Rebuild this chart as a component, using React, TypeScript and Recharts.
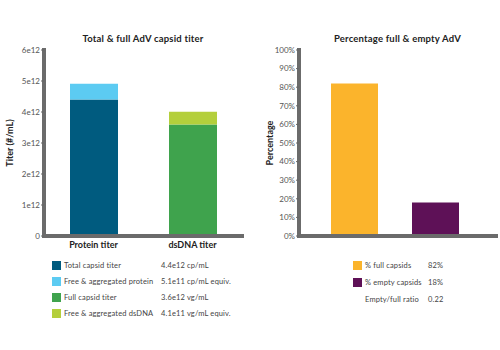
import React from "react";
import { BarChart, Bar, XAxis, YAxis, Cell } from "recharts";

const titerCategories = ["Protein titer", "dsDNA titer"];
const titerBase = [4.4e12, 3.6e12];
const titerFree = [5.1e11, 4.1e11];
const titerTicks = [0, 1e12, 2e12, 3e12, 4e12, 5e12, 6e12];
const titerTickLabels = ["0", "1e12", "2e12", "3e12", "4e12", "5e12", "6e12"];

const pctCategories = ["% full capsids", "% empty capsids"];
const pctValues = [82, 18];
const pctTicks = [0, 10, 20, 30, 40, 50, 60, 70, 80, 90, 100];

const titerLegendLabels = [
  "Total capsid titer",
  "Free & aggregated protein",
  "Full capsid titer",
  "Free & aggregated dsDNA",
];
const titerLegendValues = [
  "4.4e12 cp/mL",
  "5.1e11 cp/mL equiv.",
  "3.6e12 vg/mL",
  "4.1e11 vg/mL equiv.",
];
const pctLegendLabels = ["% full capsids", "% empty capsids", "Empty/full ratio"];
const pctLegendValues = ["82%", "18%", "0.22"];

const BASE_COLORS = ["#005b7f", "#3fa34d"];
const FREE_COLORS = ["#5ccbf2", "#b4cf3c"];
const PCT_COLORS = ["#fbb42c", "#5e1157"];
const TITER_LEGEND_COLORS = ["#005b7f", "#5ccbf2", "#3fa34d", "#b4cf3c"];
const PCT_LEGEND_COLORS = ["#fbb42c", "#5e1157", null];

const FRAME = { stroke: "#6b6b6b", strokeWidth: 4, strokeLinecap: "square" as const };
const TICK = { fontSize: 8, fill: "#555" };
const FONT = "Lato, 'Open Sans', sans-serif";

const titerData = titerCategories.map((name, i) => ({
  name,
  base: titerBase[i],
  free: titerFree[i],
}));
const pctData = pctCategories.map((name, i) => ({ name, value: pctValues[i] }));

const titleStyle: React.CSSProperties = {
  position: "absolute",
  top: 33,
  fontSize: 9.5,
  fontWeight: 700,
  color: "#222",
  textAlign: "center",
  whiteSpace: "nowrap",
  letterSpacing: 0.2,
};

function LegendRows({
  labels,
  values,
  colors,
  left,
  top,
  rowHeight,
  labelWidth,
}: {
  labels: string[];
  values: string[];
  colors: (string | null)[];
  left: number;
  top: number;
  rowHeight: number;
  labelWidth: number;
}) {
  return (
    <div style={{ position: "absolute", left, top, fontSize: 7.5, color: "#444", letterSpacing: 0.15 }}>
      {labels.map((l, i) => (
        <div key={l} style={{ display: "flex", alignItems: "center", height: rowHeight }}>
          <div
            style={{
              width: 9,
              height: 9,
              background: colors[i] ?? "transparent",
              marginRight: 3,
            }}
          />
          <div style={{ width: labelWidth, whiteSpace: "nowrap" }}>{l}</div>
          <div style={{ whiteSpace: "nowrap" }}>{values[i]}</div>
        </div>
      ))}
    </div>
  );
}

export default function App() {
  return (
    <div
      style={{
        position: "absolute",
        left: 0,
        top: 0,
        width: 500,
        height: 350,
        background: "#fff",
        fontFamily: FONT,
      }}
    >
      <div style={{ ...titleStyle, left: 44, width: 198 }}>Total &amp; full AdV capsid titer</div>
      <div style={{ ...titleStyle, left: 299, width: 197 }}>Percentage full &amp; empty AdV</div>

      <div style={{ position: "absolute", left: 0, top: 0 }}>
        <BarChart
          width={250}
          height={260}
          data={titerData}
          margin={{ top: 50, right: 8, left: 0, bottom: 3 }}
          barSize={48}
        >
          <XAxis
            dataKey="name"
            height={21}
            axisLine={FRAME}
            tickLine={false}
            tickMargin={0}
            tick={{ fontSize: 9, fill: "#222", fontWeight: 700 }}
          />
          <XAxis xAxisId="top" orientation="top" height={0} tick={false} tickLine={false} axisLine={FRAME} />
          <YAxis
            width={44}
            domain={[0, 6e12]}
            ticks={titerTicks}
            tickFormatter={(v: number) => titerTickLabels[titerTicks.indexOf(v)]}
            tick={TICK}
            tickSize={3}
            tickMargin={1}
            tickLine={{ stroke: "#666" }}
            axisLine={FRAME}
            label={{
              value: "Titer (#/mL)",
              angle: -90,
              position: "insideLeft",
              offset: 10,
              style: { textAnchor: "middle", fontSize: 9, fontWeight: 700, fill: "#222" },
            }}
          />
          <YAxis yAxisId="right" orientation="right" width={0} tick={false} tickLine={false} axisLine={FRAME} />
          <Bar dataKey="base" stackId="a" isAnimationActive={false}>
            {titerData.map((d, i) => (
              <Cell key={d.name} fill={BASE_COLORS[i]} />
            ))}
          </Bar>
          <Bar dataKey="free" stackId="a" isAnimationActive={false}>
            {titerData.map((d, i) => (
              <Cell key={d.name} fill={FREE_COLORS[i]} />
            ))}
          </Bar>
        </BarChart>
      </div>

      <div style={{ position: "absolute", left: 250, top: 0 }}>
        <BarChart
          width={250}
          height={260}
          data={pctData}
          margin={{ top: 50, right: 4, left: 0, bottom: 3 }}
          barSize={47}
        >
          <XAxis
            dataKey="name"
            height={21}
            axisLine={FRAME}
            tickLine={false}
            tick={false}
            padding={{ left: 15, right: 20 }}
          />
          <XAxis xAxisId="top" orientation="top" height={0} tick={false} tickLine={false} axisLine={FRAME} />
          <YAxis
            width={49}
            domain={[0, 100]}
            ticks={pctTicks}
            tickFormatter={(v: number) => `${v}%`}
            tick={TICK}
            tickSize={3}
            tickMargin={1}
            tickLine={{ stroke: "#666" }}
            axisLine={FRAME}
            label={{
              value: "Percentage",
              angle: -90,
              position: "insideLeft",
              offset: 20,
              style: { textAnchor: "middle", fontSize: 9, fontWeight: 700, fill: "#222" },
            }}
          />
          <YAxis yAxisId="right" orientation="right" width={0} tick={false} tickLine={false} axisLine={FRAME} />
          <Bar dataKey="value" isAnimationActive={false}>
            {pctData.map((d, i) => (
              <Cell key={d.name} fill={PCT_COLORS[i]} />
            ))}
          </Bar>
        </BarChart>
      </div>

      <LegendRows
        labels={titerLegendLabels}
        values={titerLegendValues}
        colors={TITER_LEGEND_COLORS}
        left={52}
        top={257}
        rowHeight={16}
        labelWidth={97}
      />
      <LegendRows
        labels={pctLegendLabels}
        values={pctLegendValues}
        colors={PCT_LEGEND_COLORS}
        left={353}
        top={257}
        rowHeight={17}
        labelWidth={63}
      />
    </div>
  );
}
